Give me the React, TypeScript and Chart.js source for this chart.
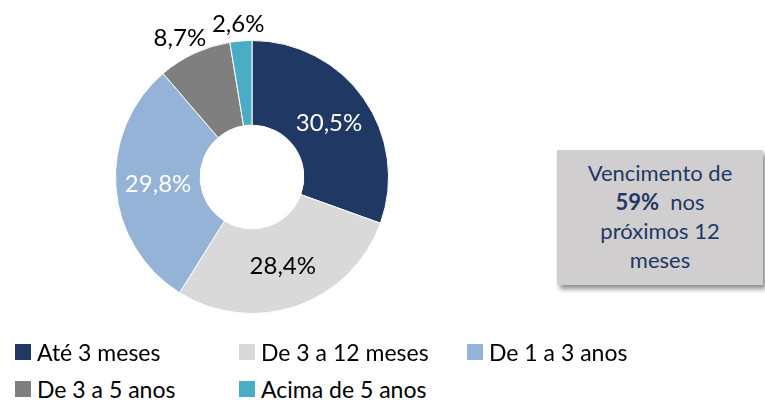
import React, { useEffect, useRef } from "react";
import { Chart, registerables } from "chart.js";

Chart.register(...registerables);

const categories = ["Até 3 meses", "De 3 a 12 meses", "De 1 a 3 anos", "De 3 a 5 anos", "Acima de 5 anos"];
const values = [30.5, 28.4, 29.8, 8.7, 2.6];
const valueLabels = ["30,5%", "28,4%", "29,8%", "8,7%", "2,6%"];
const colors = ["#1F3864", "#D9D9D9", "#95B3D7", "#7F7F7F", "#4BACC6"];
const labelColors = ["#FFFFFF", "#000000", "#FFFFFF", "#000000", "#000000"];
const labelOutside = [false, false, false, true, true];
const boxLines = ["Vencimento de", "59%|nos", "próximos 12", "meses"];

const FONT = "Lato, 'Open Sans', sans-serif";

const labelPlugin = {
  id: "sliceLabels",
  afterDatasetsDraw(chart: any) {
    const ctx = chart.ctx;
    const meta = chart.getDatasetMeta(0);
    ctx.save();
    ctx.font = `24px ${FONT}`;
    ctx.textAlign = "center";
    ctx.textBaseline = "middle";
    meta.data.forEach((arc: any, i: number) => {
      const { x, y, startAngle, endAngle, innerRadius, outerRadius } = arc.getProps(
        ["x", "y", "startAngle", "endAngle", "innerRadius", "outerRadius"],
        true
      );
      const mid = (startAngle + endAngle) / 2;
      const c = Math.cos(mid);
      const s = Math.sin(mid);
      let px: number, py: number;
      if (!labelOutside[i]) {
        const r = (innerRadius + outerRadius) / 2;
        px = x + c * r;
        py = y + s * r;
      } else {
        const w = ctx.measureText(valueLabels[i]).width;
        const h = 22;
        const r = outerRadius + 6;
        px = x + c * r + c * (w / 2) - 8 * (1 - Math.abs(s));
        py = y + s * r + s * (h / 2);
      }
      ctx.fillStyle = labelColors[i];
      ctx.fillText(valueLabels[i], px, py);
    });
    ctx.restore();
  },
};

export default function App() {
  const ref = useRef<HTMLCanvasElement | null>(null);
  useEffect(() => {
    document.body.style.margin = "0";
    const chart = new Chart(ref.current as HTMLCanvasElement, {
      type: "doughnut",
      data: {
        labels: categories,
        datasets: [
          {
            data: values,
            backgroundColor: colors,
            borderColor: "#FFFFFF",
            borderWidth: 1,
          },
        ],
      },
      options: {
        responsive: false,
        animation: false,
        cutout: "38%",
        layout: { padding: { top: 33, bottom: 33, left: 0, right: 0 } },
        plugins: { legend: { display: false }, tooltip: { enabled: false } },
      },
      plugins: [labelPlugin],
    });
    return () => chart.destroy();
  }, []);

  const legendPos = [
    { x: 15, y: 352 },
    { x: 239, y: 352 },
    { x: 467, y: 352 },
    { x: 15, y: 389 },
    { x: 239, y: 389 },
  ];

  return (
    <div style={{ position: "relative", width: 765, height: 400, background: "#fff", overflow: "hidden", fontFamily: FONT }}>
      <canvas
        ref={ref}
        width={400}
        height={340}
        style={{ position: "absolute", left: 52, top: 7, width: 400, height: 340 }}
      />
      {categories.map((c, i) => (
        <div
          key={c}
          style={{
            position: "absolute",
            left: legendPos[i].x,
            top: legendPos[i].y - 15,
            height: 30,
            display: "flex",
            alignItems: "center",
            whiteSpace: "nowrap",
            fontSize: 23,
            color: "#000",
          }}
        >
          <span style={{ display: "inline-block", width: 16, height: 16, background: colors[i], marginRight: 6 }} />
          <span>{c}</span>
        </div>
      ))}
      <div
        style={{
          position: "absolute",
          left: 557,
          top: 150,
          width: 206,
          height: 135,
          background: "#D0CECE",
          boxShadow: "3px 4px 5px rgba(0,0,0,0.45)",
          color: "#1F3864",
          fontSize: 22,
          lineHeight: "29px",
          textAlign: "center",
          paddingTop: 8,
          boxSizing: "border-box",
        }}
      >
        {boxLines.map((l, i) => {
          if (l.includes("|")) {
            const [b, r] = l.split("|");
            return (
              <div key={i}>
                <b>{b}</b>&nbsp; {r}
              </div>
            );
          }
          return <div key={i}>{l}</div>;
        })}
      </div>
    </div>
  );
}
